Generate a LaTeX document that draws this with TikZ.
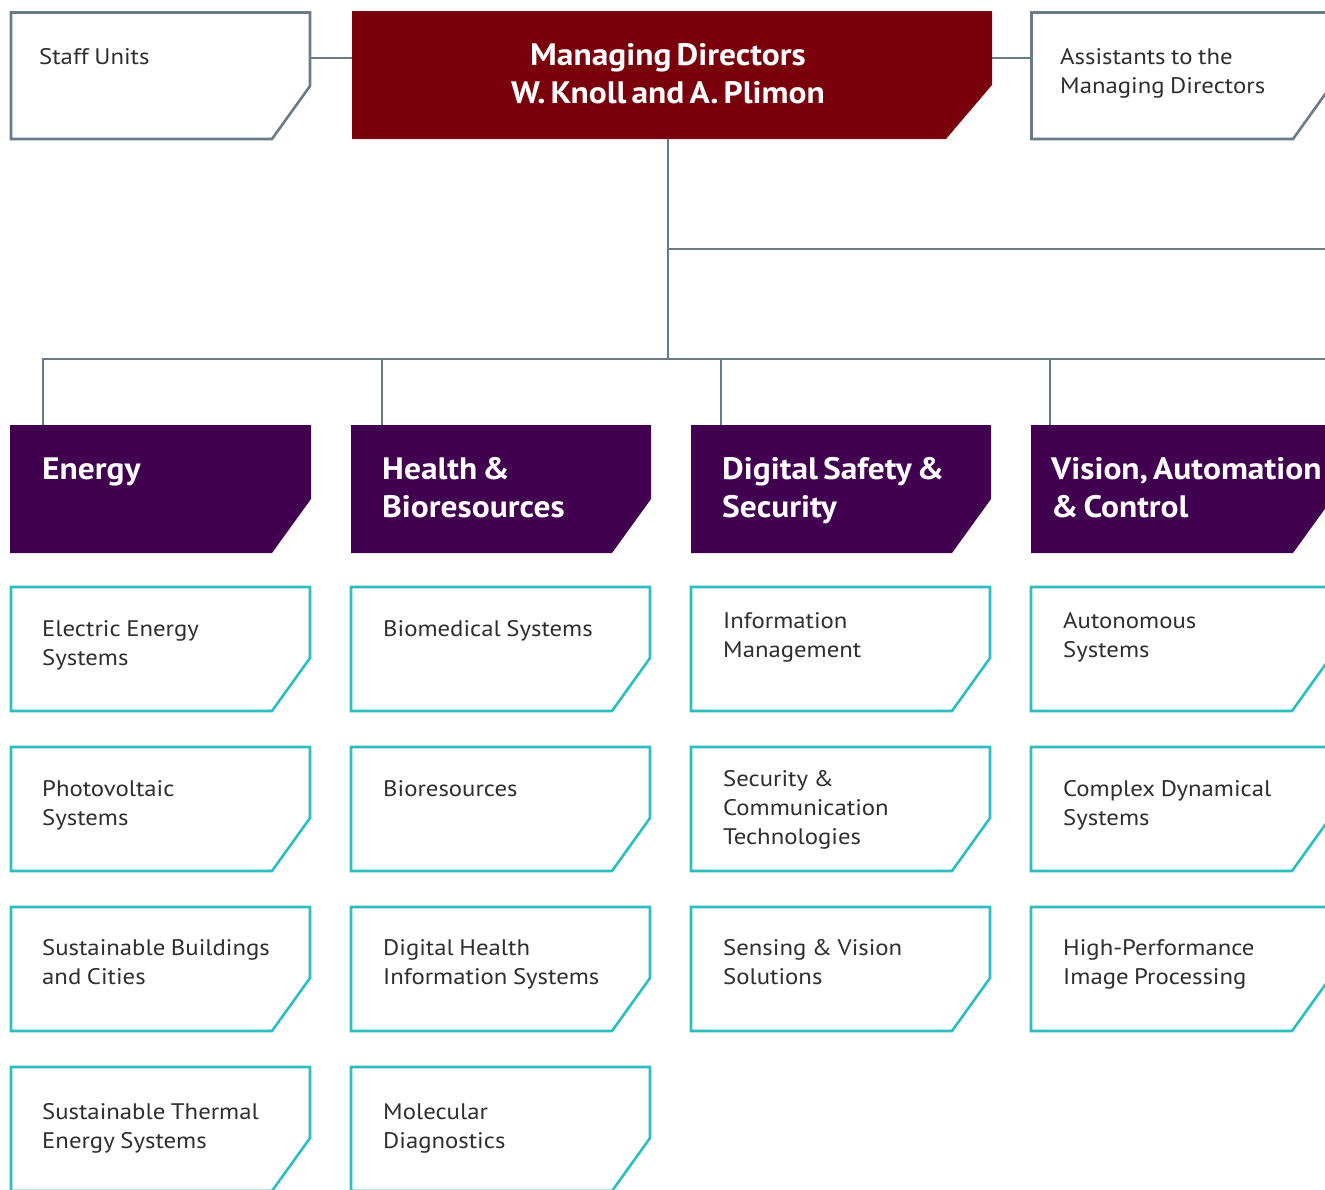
\documentclass[tikz,border=0pt]{standalone}
\usepackage{fontspec}
\setmainfont{PT Sans}[FakeStretch=1.1, WordSpace=0.85, BoldFeatures={FakeStretch=1.08, WordSpace=0.6}]
\usetikzlibrary{fit,calc}
\definecolor{mdred}{HTML}{7A000C}
\definecolor{purp}{HTML}{420050}
\definecolor{tealc}{HTML}{2DBFBF}
\definecolor{linegray}{HTML}{687B86}
\definecolor{txt}{HTML}{2E2E2E}
\newcommand{\mystrt}{\rule{0pt}{20pt}}
\newcommand{\hdstrt}{\rule{0pt}{28pt}}
% name, x1, y1, x2, y2, dx, dy, style
\newcommand{\cbox}[8]{%
  \coordinate (#1-nw) at (#2,#3);
  \coordinate (#1-se) at (#4,#5);
  \node[fit=(#1-nw)(#1-se), inner sep=0pt, outer sep=0pt] (#1) {};
  \path[#8] (#2,#3) -- (#4,#3) -- (#4,#5-#7) -- (#4-#6,#5) -- (#2,#5) -- cycle;}
\tikzset{
  graybox/.style={draw=linegray, line width=2.6pt, line join=miter},
  tealbox/.style={draw=tealc, line width=2.6pt, line join=miter},
  purpbox/.style={fill=purp},
  redbox/.style={fill=mdred},
  conn/.style={draw=linegray, line width=2.6pt},
  body/.style={font=\fontsize{22.5}{29}\selectfont, align=left, inner sep=0pt, text=txt, anchor=north west},
  head/.style={font=\bfseries\fontsize{31}{38}\selectfont, align=left, inner sep=0pt, text=white, anchor=north west},
}
\begin{document}
\begin{tikzpicture}[x=1pt,y=-1pt]
\useasboundingbox (0,0) rectangle (1325,1189);
\fill[white] (0,0) rectangle (1325,1189);
\clip (0,0) rectangle (1325,1189);

% top row
\cbox{staff}{11}{12.5}{310}{139}{38}{53}{graybox}
\cbox{md}{352}{11}{992}{139}{46}{54}{redbox}
\cbox{asst}{1031.5}{12.5}{1331}{139}{38}{53}{graybox}

\node[body] (staff-t) at (39,64-20) {\mystrt Staff Units};
\node[body] (asst-t) at (1060,64-20) {\mystrt Assistants to the\\Managing Directors};
\node[head, align=center, anchor=north] (md-t) at (668,65-28) {\hdstrt Managing Directors\\W. Knoll and A. Plimon};

% department headers
\cbox{energy}{10}{425}{311}{553}{39}{54}{purpbox}
\cbox{health}{351}{425}{651}{553}{39}{54}{purpbox}
\cbox{digital}{691}{425}{991}{553}{39}{54}{purpbox}
\cbox{vision}{1031}{425}{1332}{553}{39}{54}{purpbox}

\node[head] (energy-t) at (42,479-28) {\hdstrt Energy};
\node[head] (health-t) at (382,479-28) {\hdstrt Health \&\\Bioresources};
\node[head] (digital-t) at (722,479-28) {\hdstrt Digital Safety \&\\Security};
\node[head] (vision-t) at (1051,479-28) {\hdstrt Vision, Automation\\\& Control};

% units row 1
\cbox{e1}{11}{587}{310}{711}{38}{53}{tealbox}
\cbox{h1}{351}{587}{650}{711}{38}{53}{tealbox}
\cbox{d1}{691}{587}{990}{711}{38}{53}{tealbox}
\cbox{v1}{1031}{587}{1330}{711}{38}{53}{tealbox}
% row 2
\cbox{e2}{11}{747}{310}{871}{38}{53}{tealbox}
\cbox{h2}{351}{747}{650}{871}{38}{53}{tealbox}
\cbox{d2}{691}{747}{990}{871}{38}{53}{tealbox}
\cbox{v2}{1031}{747}{1330}{871}{38}{53}{tealbox}
% row 3
\cbox{e3}{11}{907}{310}{1031}{38}{53}{tealbox}
\cbox{h3}{351}{907}{650}{1031}{38}{53}{tealbox}
\cbox{d3}{691}{907}{990}{1031}{38}{53}{tealbox}
\cbox{v3}{1031}{907}{1330}{1031}{38}{53}{tealbox}
% row 4
\cbox{e4}{11}{1067}{310}{1191}{38}{53}{tealbox}
\cbox{h4}{351}{1067}{650}{1191}{38}{53}{tealbox}

\node[body] (e1-t) at (42,636-20) {\mystrt Electric Energy\\Systems};
\node[body] (h1-t) at (383,636-20) {\mystrt Biomedical Systems};
\node[body] (d1-t) at (723,628-20) {\mystrt Information\\Management};
\node[body] (v1-t) at (1063,628-20) {\mystrt Autonomous\\Systems};

\node[body] (e2-t) at (42,796-20) {\mystrt Photovoltaic\\Systems};
\node[body] (h2-t) at (383,796-20) {\mystrt Bioresources};
\node[body] (d2-t) at (723,786-20) {\mystrt Security \&\\Communication\\Technologies};
\node[body] (v2-t) at (1063,796-20) {\mystrt Complex Dynamical\\Systems};

\node[body] (e3-t) at (42,955-20) {\mystrt Sustainable Buildings\\and Cities};
\node[body] (h3-t) at (383,955-20) {\mystrt Digital Health\\Information Systems};
\node[body] (d3-t) at (723,955-20) {\mystrt Sensing \& Vision\\Solutions};
\node[body] (v3-t) at (1063,955-20) {\mystrt High-Performance\\Image Processing};

\node[body] (e4-t) at (42,1119-20) {\mystrt Sustainable Thermal\\Energy Systems};
\node[body] (h4-t) at (383,1119-20) {\mystrt Molecular\\Diagnostics};

% connectors
\coordinate (lnk) at (0,58);
\coordinate (hub) at (668,359);
\coordinate (branch) at (668,249);
\coordinate (offA) at (1340,249);
\coordinate (offB) at (1340,359);
\coordinate (b1) at (43,359);
\coordinate (b2) at (382,359);
\coordinate (b3) at (721,359);
\coordinate (b4) at (1050,359);

\draw[conn] (staff.east |- lnk) -- (md.west |- lnk);
\draw[conn] (md.east |- lnk) -- (asst.west |- lnk);
\draw[conn] (md.south -| hub) -- (hub);
\draw[conn] (branch) -- (offA);
\draw[conn] (energy.north -| b1) |- (offB);
\draw[conn] (b2) -- (health.north -| b2);
\draw[conn] (b3) -- (digital.north -| b3);
\draw[conn] (b4) -- (vision.north -| b4);
\end{tikzpicture}
\end{document}
